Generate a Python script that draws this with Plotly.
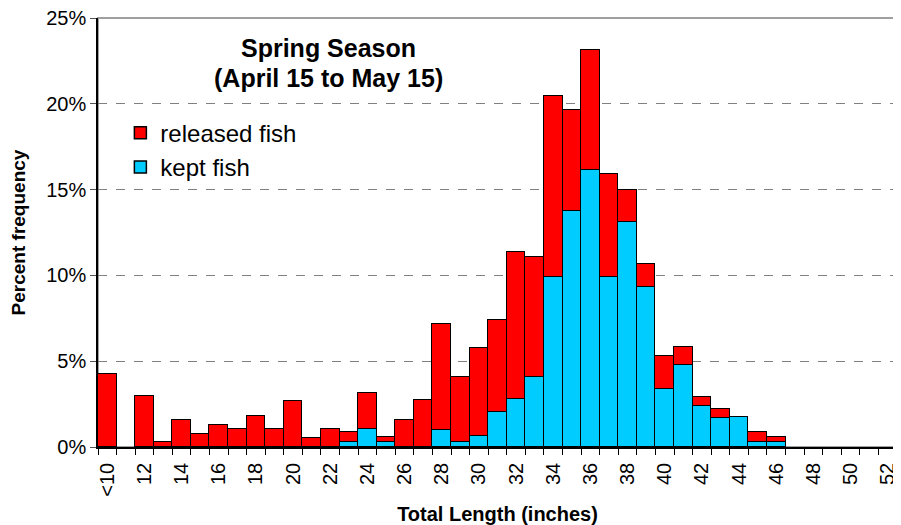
import plotly.graph_objects as go

categories = ["<10"] + [str(n) for n in range(11, 53)]

kept = [None, None, None, None, None, None, None, None, None, None,
        None, None, None, 0.30, 1.03, 0.30, None, None, 1.01, 0.30,
        0.66, 2.06, 2.78, 4.10, 9.93, 13.77, 16.14, 9.93, 13.10, 9.34,
        3.38, 4.78, 2.40, 1.71, 1.73, 0.31, 0.31, None, None, None,
        None, None, None]

released = [4.25, None, 2.97, 0.27, 1.55, 0.78, 1.28, 1.03, 1.81, 1.03,
            2.70, 0.50, 1.03, 0.57, 2.10, 0.30, 1.55, 2.72, 6.14, 3.80,
            5.09, 5.34, 8.57, 6.99, 10.52, 5.87, 7.00, 5.96, 1.88, 1.31,
            1.92, 1.07, 0.53, 0.52, None, 0.55, 0.27, None, None, None,
            None, None, None]

y_ticks = [0, 5, 10, 15, 20, 25]

xpos = list(range(len(categories)))
label_pos = xpos[::2]
label_text = categories[::2]
boundaries = [p - 0.5 for p in xpos] + [xpos[-1] + 0.5]

FONT = "Liberation Sans, Arial, sans-serif"

fig = go.Figure()
fig.add_trace(go.Bar(
    x=xpos, y=kept, name="kept fish",
    marker=dict(color="#00CCFF", line=dict(color="black", width=1.5)),
))
fig.add_trace(go.Bar(
    x=xpos, y=released, name="released fish",
    marker=dict(color="#FF0000", line=dict(color="black", width=1.5)),
))

# page body has an 8px margin, so the figure is sized to fit the window
fig.update_layout(
    width=893, height=517,
    margin=dict(l=90, r=4, t=10, b=78, autoexpand=False),
    barmode="stack", bargap=0,
    plot_bgcolor="white", paper_bgcolor="white",
    font=dict(family=FONT, color="black"),
    legend=dict(
        traceorder="reversed",
        x=0.028, y=0.784, xanchor="left", yanchor="top",
        font=dict(size=24, family=FONT),
        bgcolor="rgba(0,0,0,0)",
        tracegroupgap=0,
    ),
    shapes=[dict(type="rect", xref="paper", yref="paper", x0=0, x1=1, y0=0, y1=1,
                 line=dict(color="#a0a0a0", width=2), layer="below")],
    annotations=[
        dict(text="<b>Spring Season</b>",
             xref="paper", yref="paper", x=0.289, y=(447 - 48) / 429,
             xanchor="center", yanchor="middle", showarrow=False,
             font=dict(size=25, family=FONT, color="black")),
        dict(text="<b>(April 15 to May 15)</b>",
             xref="paper", yref="paper", x=0.289, y=(447 - 78) / 429,
             xanchor="center", yanchor="middle", showarrow=False,
             font=dict(size=25, family=FONT, color="black")),
    ],
)

fig.update_xaxes(
    range=[-0.5, len(categories) - 0.5],
    tickmode="array", tickvals=label_pos, ticktext=label_text,
    tickangle=-90, ticks="outside", ticklen=6, tickcolor="rgba(0,0,0,0)",
    tickfont=dict(size=20, family=FONT),
    showline=True, linecolor="black", linewidth=1.5,
    showgrid=False, zeroline=False, automargin=False,
    ticklabeloverflow="allow",
    minor=dict(tickmode="array", tickvals=boundaries, ticks="outside",
               ticklen=6, tickcolor="black", tickwidth=1, showgrid=False),
    title=dict(text="<b>Total Length (inches)</b>", font=dict(size=20, family=FONT),
               standoff=12),
)

fig.update_yaxes(
    range=[0, 25], tickmode="array", tickvals=y_ticks,
    ticktext=[f"{v}%" for v in y_ticks],
    ticks="outside", ticklen=6, tickcolor="#555555",
    tickfont=dict(size=20, family=FONT),
    showline=True, linecolor="black", linewidth=1.5,
    showgrid=True, gridcolor="#808080", gridwidth=1, griddash="dash",
    zeroline=False, automargin=False,
    ticklabeloverflow="allow",
    title=dict(text="<b>Percent frequency</b>", font=dict(size=19, family=FONT),
               standoff=17),
)

fig.write_html("out.html")
